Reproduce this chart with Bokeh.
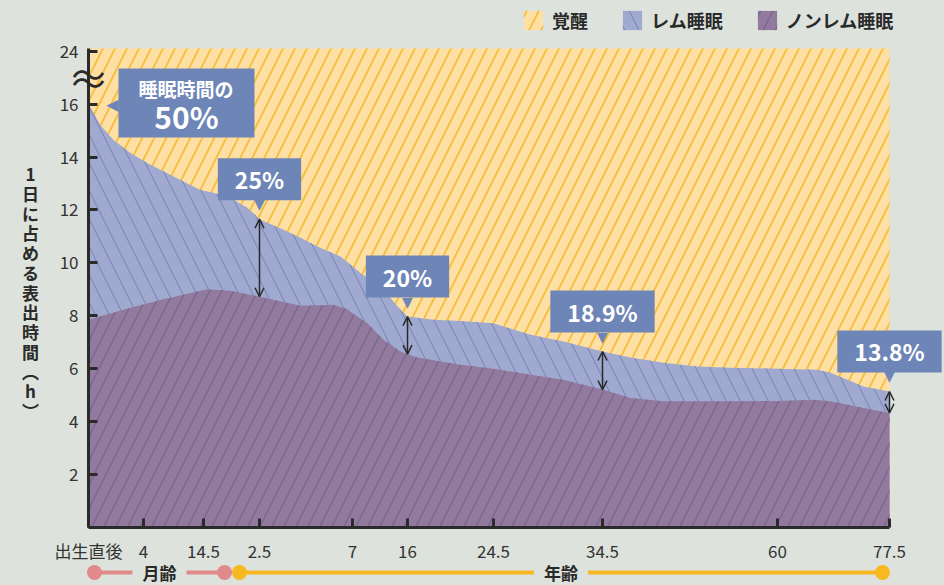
from bokeh.plotting import figure
from bokeh.models import (Range1d, FixedTicker, Label, Arrow, OpenHead, Legend,
                          LegendItem, GlobalInlineStyleSheet)
from bokeh.embed import file_html
from bokeh.resources import INLINE

# ---------------- data ----------------
age_labels = ["出生直後", "4", "14.5", "2.5", "7", "16", "24.5", "34.5", "60", "77.5"]
age_pos = [0, 55, 115, 171, 264, 319, 405, 514, 689, 801]

# total sleep (top of REM band), hours
upper_x = [0, 12, 25, 42, 59, 92, 112, 125, 142, 159, 171, 195, 212, 229, 252, 264,
           272, 295, 312, 319, 345, 372, 405, 442, 475, 514, 542, 575, 609, 642,
           689, 729, 742, 759, 775, 801]
upper_h = [16.0, 15.2, 14.64, 14.15, 13.76, 13.13, 12.75, 12.65, 12.45, 12.08, 11.65,
           11.25, 10.95, 10.62, 10.24, 9.87, 9.62, 8.98, 8.23, 7.97, 7.85, 7.8, 7.72,
           7.28, 7.03, 6.65, 6.42, 6.23, 6.08, 6.04, 6.0, 5.96, 5.85, 5.58, 5.33, 5.14]

# non-REM sleep, hours
lower_x = [0, 42, 72, 119, 142, 171, 212, 245, 259, 264, 279, 295, 312, 319, 329, 372,
           405, 442, 475, 514, 542, 575, 642, 689, 725, 742, 775, 801]
lower_h = [7.85, 8.3, 8.6, 9.0, 8.95, 8.72, 8.38, 8.42, 8.25, 8.1, 7.72, 7.09, 6.65,
           6.55, 6.42, 6.15, 6.0, 5.77, 5.58, 5.21, 4.89, 4.77, 4.77, 4.78, 4.83, 4.77,
           4.52, 4.33]

y_ticks = [2, 4, 6, 8, 10, 12, 14, 16, 18]
y_labels = ["2", "4", "6", "8", "10", "12", "14", "16", "24"]
Y_TOP = 18.1   # axis is broken between 16 and 24

y_title = "1日に占める表出時間︵h︶"
series_names = ["覚醒", "レム睡眠", "ノンレム睡眠"]
callout_ages = ["2.5", "16", "34.5", "77.5"]
callout_texts = ["25%", "20%", "18.9%", "13.8%"]
first_callout = ["睡眠時間の", "50%"]

month_span = [6, 136]
year_span = [151, 794]
period_names = ["月齢", "年齢"]

# ---------------- styles ----------------
BG = "#dde3dc"
WAKE_FILL, WAKE_HATCH = "#fedfa4", "#f6bc3c"
REM_FILL, REM_HATCH = "#a0aad0", "#7d88b8"
NREM_FILL, NREM_HATCH = "#917a9d", "#77618a"
BOX = "#6e85b8"
INK = "#2a2a2a"
PINK = "#e08a8c"
GOLD = "#f8b820"
NUM_FONT = "'Liberation Sans Narrow', 'Noto Sans CJK JP', sans-serif"
JP_FONT = "'Noto Sans CJK JP', sans-serif"

# canvas geometry (pixels): plot area spans 88..889 horizontally, 48..527 vertically
W, H = 944, 585
PL, PR, PT, PB = 88, 55, 48, 58
FH = H - PT - PB
K = FH / Y_TOP          # pixels per hour

p = figure(width=W, height=H,
           x_range=Range1d(age_pos[0] - PL, age_pos[-1] + PR),
           y_range=Range1d(-PB / K, (H - PB) / K),
           output_backend="svg", toolbar_location=None,
           min_border_left=0, min_border_right=0, min_border_top=0, min_border_bottom=0,
           background_fill_color=BG, border_fill_color=BG, outline_line_color=None)
p.title.visible = False
p.grid.visible = False

r_wake = p.varea(x=[age_pos[0], age_pos[-1]], y1=[0, 0], y2=[Y_TOP, Y_TOP],
                 fill_color=WAKE_FILL, hatch_pattern="/", hatch_color=WAKE_HATCH,
                 hatch_scale=24, hatch_weight=1.7)
r_rem = p.varea(x=upper_x, y1=[0] * len(upper_x), y2=upper_h,
                fill_color=REM_FILL, hatch_pattern="\\", hatch_color=REM_HATCH,
                hatch_scale=28, hatch_weight=1.1)
r_nrem = p.varea(x=lower_x, y1=[0] * len(lower_x), y2=lower_h,
                 fill_color=NREM_FILL, hatch_pattern="/", hatch_color=NREM_HATCH,
                 hatch_scale=24, hatch_weight=1.1)

# axes (drawn at the data origin, limited to the plotted span)
p.xaxis.fixed_location = 0
p.yaxis.fixed_location = age_pos[0]
p.xaxis.bounds = (age_pos[0], age_pos[-1])
p.yaxis.bounds = (0, Y_TOP)
p.xaxis.ticker = FixedTicker(ticks=age_pos)
p.xaxis.major_label_overrides = {pos: lab for pos, lab in zip(age_pos, age_labels)}
p.yaxis.ticker = FixedTicker(ticks=y_ticks)
p.yaxis.major_label_overrides = {t: lab for t, lab in zip(y_ticks, y_labels)}
for ax in (p.xaxis[0], p.yaxis[0]):
    ax.axis_line_width = 3
    ax.axis_line_color = INK
    ax.major_tick_in = 9
    ax.major_tick_out = 0
    ax.major_tick_line_width = 3
    ax.major_tick_line_color = INK
    ax.minor_tick_line_color = None
    ax.major_label_text_font = NUM_FONT
    ax.major_label_text_font_size = "17px"
    ax.major_label_text_color = "#333333"
    ax.major_label_standoff = 10

# vertical y-axis title (upright characters)
p.add_layout(Label(x=age_pos[0], y=Y_TOP / 2, x_offset=-58, y_offset=-4,
                   text="\n".join(list(y_title)), text_align="center",
                   text_baseline="middle", text_font=JP_FONT, text_font_size="17px",
                   text_font_style="bold", text_color=INK, text_line_height=0.79))

# axis break mark (two waves across the axis)
p.add_layout(Label(x=age_pos[0], y=(y_ticks[-2] + y_ticks[-1]) / 2, text="〜\n〜",
                   text_align="center", text_baseline="middle",
                   text_font=JP_FONT, text_font_size="34px", text_color=INK,
                   text_line_height=0.16))

# legend
legend = Legend(items=[LegendItem(label=n, renderers=[r]) for n, r in
                       zip(series_names, [r_wake, r_rem, r_nrem])],
                orientation="horizontal", location=(521, H - 33), glyph_width=24,
                glyph_height=24, label_standoff=7, spacing=32, padding=0, margin=0,
                background_fill_alpha=0, border_line_alpha=0,
                label_text_font=JP_FONT, label_text_font_size="18px",
                label_text_font_style="bold", label_text_color=INK)
p.add_layout(legend, "center")

# first callout (50%), pointing at the axis
x0, y0 = upper_x[0], upper_h[0]
p.add_layout(Label(x=x0, y=y0, x_offset=98, y_offset=1, text=first_callout[0],
                   text_align="center", text_baseline="middle", text_color="white",
                   text_font=JP_FONT, text_font_size="19px", text_font_style="bold",
                   background_fill_color=BOX, padding=(20, 21, 6, 36)))
p.add_layout(Label(x=x0, y=y0, x_offset=98, y_offset=-12, text=first_callout[1],
                   text_align="center", text_baseline="middle", text_color="white",
                   text_font=JP_FONT, text_font_size="30px", text_font_style="bold"))
p.add_layout(Label(x=x0, y=y0, x_offset=24, text="◀", text_align="center",
                   text_baseline="middle", text_color=BOX, text_font="DejaVu Sans",
                   text_font_size="16px"))

# other callouts with double arrows
for age, txt in zip(callout_ages, callout_texts):
    xp = age_pos[age_labels.index(age)]
    yt = upper_h[upper_x.index(xp)]
    yb = lower_h[lower_x.index(xp)]
    p.add_layout(Arrow(start=OpenHead(size=9, line_color=INK, line_width=1.5),
                       end=OpenHead(size=9, line_color=INK, line_width=1.5),
                       x_start=xp, y_start=yt, x_end=xp, y_end=yb,
                       line_color=INK, line_width=1.5))
    p.add_layout(Label(x=xp, y=yt, y_offset=40, text=txt, text_align="center",
                       text_baseline="middle", text_color="white", text_font=JP_FONT,
                       text_font_size="23px", text_font_style="bold",
                       background_fill_color=BOX, padding=(17, 4)))
    p.add_layout(Label(x=xp, y=yt, y_offset=15, text="▼", text_align="center",
                       text_baseline="middle", text_color=BOX,
                       text_font="DejaVu Sans", text_font_size="14px"))

# ---------------- age bar (below the axis) ----------------
BAR_Y = -45 / K
for span, col, name in zip([month_span, year_span], [PINK, GOLD], period_names):
    p.line(x=span, y=[BAR_Y, BAR_Y], line_color=col, line_width=4)
    p.scatter(x=span, y=[BAR_Y, BAR_Y], size=15, fill_color=col, line_color=None)
    p.add_layout(Label(x=sum(span) / 2, y=BAR_Y, text=name, text_align="center",
                       text_baseline="middle", text_font=JP_FONT, text_font_size="17px",
                       text_font_style="bold", text_color=INK,
                       background_fill_color=BG, padding=(10, 0)))

p.stylesheets = [GlobalInlineStyleSheet(css="html, body { background-color: #dde3dc; }")]

open("out.html", "w").write(file_html(p, INLINE))
